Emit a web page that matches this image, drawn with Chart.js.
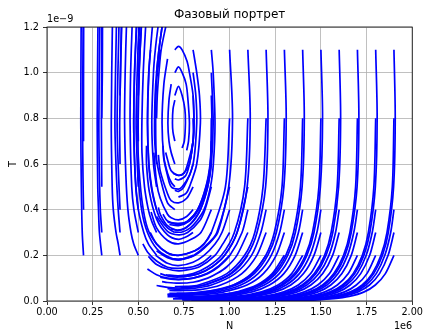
<!DOCTYPE html>
<html>
<head>
<meta charset="utf-8">
<script src="https://cdn.jsdelivr.net/npm/chart.js@4.4.1/dist/chart.umd.min.js"></script>
<style>
  html, body { margin: 0; padding: 0; background: #fff; }
  #wrap { width: 425px; height: 332px; }
</style>
</head>
<body>
<div id="wrap"><canvas id="phase" width="425" height="332"></canvas></div>
<script>
// N in units of 1e6, T in units of 1e-9
const nTicks = [0, 0.25, 0.5, 0.75, 1.0, 1.25, 1.5, 1.75, 2.0];
const tTicks = [0, 0.2, 0.4, 0.6, 0.8, 1.0, 1.2];

// trajectories grouped by starting column N0; each one is a list of [N, T]
const c02 = [
  [[0.2, 0.2], [0.193, 0.3], [0.188, 0.5], [0.185, 0.78], [0.187, 1.2], [0.188, 1.26]],
  [[0.2, 0.4], [0.197, 0.55], [0.195, 0.78], [0.198, 1.2], [0.199, 1.26]],
  [[0.2, 0.7], [0.2, 0.95], [0.201, 1.26]]
];
const c03 = [
  [[0.3, 0.2], [0.287, 0.3], [0.282, 0.4], [0.278, 0.5], [0.275, 0.78], [0.279, 1.2], [0.28, 1.26]],
  [[0.3, 0.3], [0.292, 0.4], [0.287, 0.55], [0.284, 0.78], [0.289, 1.2], [0.29, 1.26]],
  [[0.3, 0.5], [0.298, 0.78], [0.3, 1.2], [0.301, 1.26]],
  [[0.3, 0.8], [0.303, 1.0], [0.304, 1.26]]
];
const c04 = [
  [[0.4, 0.2], [0.39, 0.25], [0.378, 0.3], [0.363, 0.4], [0.357, 0.5], [0.352, 0.78], [0.358, 1.2], [0.36, 1.26]],
  [[0.4, 0.3], [0.39, 0.4], [0.38, 0.55], [0.372, 0.78], [0.38, 1.2], [0.382, 1.26]],
  [[0.4, 0.4], [0.392, 0.55], [0.384, 0.78], [0.394, 1.2], [0.396, 1.26]],
  [[0.4, 0.6], [0.398, 0.78], [0.407, 1.2], [0.409, 1.26]],
  [[0.4, 0.9], [0.404, 1.05], [0.409, 1.2], [0.411, 1.26]]
];
const c05 = [
  [[0.5, 0.2], [0.475, 0.25], [0.46, 0.3], [0.443, 0.4], [0.432, 0.55], [0.425, 0.78], [0.428, 1.0], [0.435, 1.2], [0.438, 1.26]],
  [[0.5, 0.3], [0.476, 0.4], [0.464, 0.5], [0.455, 0.78], [0.458, 1.0], [0.466, 1.2], [0.469, 1.26]],
  [[0.5, 0.4], [0.486, 0.5], [0.478, 0.65], [0.475, 0.78], [0.479, 1.0], [0.49, 1.2], [0.492, 1.26]],
  [[0.5, 0.5], [0.492, 0.65], [0.488, 0.78], [0.494, 1.0], [0.503, 1.2], [0.506, 1.26]],
  [[0.5, 0.7], [0.499, 0.78], [0.505, 1.0], [0.51, 1.1], [0.517, 1.2], [0.52, 1.26]],
  [[0.5, 0.9], [0.504, 1.0], [0.516, 1.2], [0.519, 1.26]],
  [[0.5, 1.1], [0.507, 1.2], [0.51, 1.26]]
];
const c06 = [
  [[0.6, 0.2], [0.555, 0.25], [0.53, 0.3], [0.5, 0.4], [0.487, 0.5], [0.478, 0.65], [0.475, 0.8], [0.48, 1.0], [0.49, 1.2], [0.495, 1.26]],
  [[0.6, 0.3], [0.573, 0.35], [0.555, 0.4], [0.534, 0.5], [0.52, 0.65], [0.52, 0.8], [0.527, 1.0], [0.54, 1.2], [0.545, 1.26]],
  [[0.6, 0.4], [0.585, 0.45], [0.573, 0.5], [0.558, 0.6], [0.551, 0.78], [0.558, 1.0], [0.577, 1.2], [0.585, 1.26]],
  [[0.6, 0.5], [0.583, 0.6], [0.574, 0.78], [0.583, 1.0], [0.593, 1.1], [0.608, 1.2], [0.62, 1.26]],
  [[0.6, 0.6], [0.59, 0.7], [0.589, 0.8], [0.592, 0.9], [0.6, 1.0], [0.613, 1.1], [0.63, 1.2], [0.643, 1.26]],
  [[0.6, 0.8], [0.604, 0.9], [0.613, 1.0], [0.625, 1.1], [0.65, 1.2], [0.667, 1.26]],
  [[0.6, 1.0], [0.613, 1.1], [0.63, 1.2], [0.643, 1.26]]
];
const c07 = [
  [[0.7, 0.2], [0.66, 0.21], [0.6, 0.25], [0.55, 0.32], [0.52, 0.44], [0.5, 0.63], [0.498, 0.78], [0.502, 1.0], [0.508, 1.15]],
  [[0.7, 0.3], [0.66, 0.32], [0.62, 0.36], [0.6, 0.4], [0.58, 0.46], [0.56, 0.57], [0.55, 0.78], [0.557, 1.0], [0.567, 1.1]],
  [[0.7, 0.4], [0.66, 0.43], [0.62, 0.54], [0.6, 0.62], [0.595, 0.78], [0.6, 0.96], [0.62, 1.1]],
  [[0.7, 0.5], [0.68, 0.52], [0.66, 0.56], [0.64, 0.63], [0.63, 0.78], [0.64, 0.95], [0.66, 1.06]],
  [[0.7, 0.6], [0.68, 0.65], [0.668, 0.7], [0.662, 0.78], [0.668, 0.88], [0.68, 0.95]],
  [[0.7, 0.7], [0.69, 0.74], [0.687, 0.78], [0.69, 0.84], [0.7, 0.88]],
  [[0.7, 0.9], [0.72, 0.94], [0.74, 0.9], [0.755, 0.84], [0.758, 0.78], [0.752, 0.7], [0.74, 0.67]],
  [[0.7, 1.0], [0.72, 1.025], [0.74, 1.0], [0.762, 0.95], [0.772, 0.88], [0.78, 0.78], [0.775, 0.7], [0.765, 0.66]],
  [[0.7, 1.1], [0.72, 1.115], [0.74, 1.1], [0.767, 1.05], [0.78, 1.0], [0.8, 0.9], [0.805, 0.78], [0.8, 0.7], [0.785, 0.62]]
];
const c08 = [
  [[0.8, 1.1], [0.82, 1.0], [0.835, 0.9], [0.84, 0.78], [0.82, 0.6], [0.78, 0.5], [0.76, 0.47], [0.72, 0.455]],
  [[0.8, 1.0], [0.815, 0.9], [0.82, 0.78], [0.8, 0.6], [0.75, 0.5], [0.72, 0.48], [0.7, 0.485]],
  [[0.8, 0.9], [0.805, 0.78], [0.8, 0.7], [0.78, 0.6], [0.76, 0.55], [0.72, 0.53], [0.7, 0.535]],
  [[0.8, 0.8], [0.8, 0.7], [0.77, 0.6], [0.75, 0.56], [0.72, 0.55], [0.69, 0.56]],
  [[0.8, 0.7], [0.78, 0.6], [0.75, 0.56], [0.72, 0.55], [0.68, 0.57], [0.66, 0.62], [0.65, 0.65]],
  [[0.8, 0.6], [0.78, 0.55], [0.74, 0.5], [0.72, 0.49], [0.68, 0.5], [0.66, 0.55], [0.64, 0.62], [0.635, 0.68]],
  [[0.8, 0.5], [0.765, 0.45], [0.72, 0.43], [0.68, 0.44], [0.66, 0.47], [0.62, 0.57], [0.61, 0.64]],
  [[0.8, 0.4], [0.765, 0.37], [0.72, 0.355], [0.68, 0.365], [0.66, 0.38], [0.62, 0.45], [0.6, 0.52], [0.585, 0.65]],
  [[0.8, 0.3], [0.76, 0.28], [0.72, 0.27], [0.66, 0.29], [0.6, 0.36], [0.56, 0.48], [0.545, 0.6], [0.545, 0.68]],
  [[0.8, 0.2], [0.765, 0.19], [0.72, 0.18], [0.66, 0.195], [0.6, 0.23], [0.55, 0.3], [0.52, 0.39], [0.5, 0.53], [0.497, 0.6]]
];
const c09 = [
  [[0.9, 1.1], [0.91, 1.0], [0.92, 0.78], [0.911, 0.6], [0.895, 0.5], [0.86, 0.4], [0.82, 0.35], [0.785, 0.32], [0.74, 0.302], [0.7, 0.302]],
  [[0.9, 1.0], [0.91, 0.78], [0.9, 0.6], [0.88, 0.5], [0.84, 0.4], [0.8, 0.35], [0.76, 0.32], [0.72, 0.31], [0.68, 0.315]],
  [[0.9, 0.9], [0.903, 0.78], [0.895, 0.6], [0.875, 0.5], [0.83, 0.4], [0.78, 0.35], [0.72, 0.33], [0.67, 0.335]],
  [[0.9, 0.8], [0.895, 0.6], [0.872, 0.5], [0.825, 0.4], [0.77, 0.35], [0.72, 0.34], [0.66, 0.345]],
  [[0.9, 0.7], [0.893, 0.6], [0.87, 0.5], [0.825, 0.4], [0.77, 0.35], [0.72, 0.335], [0.66, 0.35], [0.635, 0.38]],
  [[0.9, 0.6], [0.88, 0.5], [0.84, 0.4], [0.79, 0.34], [0.72, 0.31], [0.66, 0.33], [0.62, 0.38], [0.61, 0.41]],
  [[0.9, 0.5], [0.865, 0.4], [0.835, 0.35], [0.77, 0.3], [0.72, 0.29], [0.66, 0.305], [0.6, 0.37]],
  [[0.9, 0.4], [0.843, 0.3], [0.79, 0.27], [0.72, 0.25], [0.66, 0.265], [0.6, 0.32], [0.57, 0.39]],
  [[0.9, 0.3], [0.86, 0.25], [0.81, 0.22], [0.72, 0.2], [0.66, 0.21], [0.6, 0.25], [0.565, 0.3]],
  [[0.9, 0.2], [0.855, 0.17], [0.8, 0.15], [0.72, 0.143], [0.66, 0.148], [0.6, 0.175], [0.55, 0.215], [0.525, 0.25]]
];
const c10 = [
  [[1.0, 1.1], [1.016, 0.8], [0.995, 0.5], [0.93, 0.3], [0.88, 0.25], [0.805, 0.2], [0.76, 0.187], [0.72, 0.183], [0.69, 0.185]],
  [[1.0, 0.8], [0.977, 0.5], [0.9, 0.3], [0.86, 0.25], [0.81, 0.22], [0.72, 0.2], [0.67, 0.205]],
  [[1.0, 0.5], [0.935, 0.3], [0.885, 0.25], [0.81, 0.2], [0.72, 0.18], [0.66, 0.19], [0.6, 0.22]],
  [[1.0, 0.4], [0.958, 0.3], [0.92, 0.25], [0.86, 0.2], [0.8, 0.17], [0.72, 0.155], [0.66, 0.165], [0.595, 0.2]],
  [[1.0, 0.3], [0.963, 0.25], [0.92, 0.2], [0.835, 0.15], [0.76, 0.135], [0.72, 0.132], [0.66, 0.14], [0.6, 0.16], [0.555, 0.195]],
  [[1.0, 0.2], [0.935, 0.15], [0.875, 0.12], [0.8, 0.1], [0.72, 0.095], [0.66, 0.1], [0.6, 0.115], [0.55, 0.14]]
];
const c11 = [
  [[1.1, 1.1], [1.113, 0.8], [1.096, 0.5], [1.041, 0.3], [0.973, 0.2], [0.905, 0.15], [0.83, 0.12], [0.76, 0.108], [0.71, 0.106]],
  [[1.1, 0.8], [1.082, 0.5], [1.026, 0.3], [0.956, 0.2], [0.88, 0.15], [0.8, 0.12], [0.72, 0.11], [0.65, 0.115]],
  [[1.1, 0.5], [1.041, 0.3], [0.973, 0.2], [0.905, 0.15], [0.83, 0.12], [0.72, 0.105], [0.66, 0.11], [0.62, 0.12]],
  [[1.1, 0.4], [1.068, 0.3], [1.002, 0.2], [0.94, 0.15], [0.88, 0.12], [0.8, 0.1], [0.72, 0.094], [0.66, 0.098], [0.62, 0.104]],
  [[1.1, 0.3], [1.04, 0.2], [0.985, 0.15], [0.93, 0.12], [0.88, 0.1], [0.8, 0.082], [0.72, 0.078], [0.66, 0.081], [0.63, 0.085]],
  [[1.1, 0.2], [1.053, 0.15], [1.01, 0.12], [0.965, 0.1], [0.9, 0.08], [0.865, 0.07], [0.78, 0.06], [0.72, 0.057], [0.66, 0.06], [0.6, 0.068]]
];
const c12 = [
  [[1.2, 1.1], [1.21, 0.8], [1.197, 0.5], [1.15, 0.3], [1.096, 0.2], [1.004, 0.12], [0.86, 0.07], [0.78, 0.061], [0.735, 0.059]],
  [[1.2, 0.8], [1.183, 0.5], [1.138, 0.3], [1.082, 0.2], [0.985, 0.12], [0.83, 0.07], [0.76, 0.064], [0.7, 0.063]],
  [[1.2, 0.4], [1.171, 0.3], [1.12, 0.2], [1.03, 0.12], [0.9, 0.07], [0.8, 0.055], [0.72, 0.052], [0.66, 0.054]],
  [[1.2, 0.3], [1.149, 0.2], [1.067, 0.12], [0.951, 0.07], [0.84, 0.05], [0.76, 0.046], [0.67, 0.046]],
  [[1.2, 0.2], [1.125, 0.12], [1.022, 0.07], [0.94, 0.05], [0.85, 0.04], [0.76, 0.034], [0.67, 0.034]]
];
const c13 = [
  [[1.3, 1.1], [1.31, 0.8], [1.297, 0.5], [1.256, 0.3], [1.209, 0.2], [1.135, 0.12], [1.035, 0.07], [0.895, 0.04], [0.8, 0.033], [0.74, 0.031]],
  [[1.3, 0.8], [1.287, 0.5], [1.245, 0.3], [1.198, 0.2], [1.12, 0.12], [1.02, 0.07], [0.868, 0.04], [0.78, 0.034], [0.71, 0.033]],
  [[1.3, 0.4], [1.274, 0.3], [1.228, 0.2], [1.156, 0.12], [1.061, 0.07], [0.93, 0.04], [0.8, 0.03], [0.72, 0.028], [0.66, 0.03]],
  [[1.3, 0.3], [1.255, 0.2], [1.185, 0.12], [1.095, 0.07], [0.97, 0.04], [0.885, 0.03], [0.76, 0.025], [0.66, 0.026]],
  [[1.3, 0.2], [1.233, 0.12], [1.149, 0.07], [1.04, 0.04], [0.97, 0.03], [0.84, 0.02], [0.72, 0.018], [0.66, 0.019]]
];
const c14 = [
  [[1.4, 1.1], [1.409, 0.8], [1.397, 0.5], [1.36, 0.3], [1.318, 0.2], [1.253, 0.12], [1.17, 0.07], [1.067, 0.04], [0.89, 0.02], [0.77, 0.016]],
  [[1.4, 0.8], [1.388, 0.5], [1.35, 0.3], [1.308, 0.2], [1.242, 0.12], [1.159, 0.07], [1.053, 0.04], [0.865, 0.02], [0.75, 0.017]],
  [[1.4, 0.4], [1.377, 0.3], [1.335, 0.2], [1.272, 0.12], [1.19, 0.07], [1.09, 0.04], [0.925, 0.02], [0.72, 0.014]],
  [[1.4, 0.3], [1.359, 0.2], [1.297, 0.12], [1.218, 0.07], [1.123, 0.04], [0.97, 0.02], [0.7, 0.012]],
  [[1.4, 0.2], [1.34, 0.12], [1.265, 0.07], [1.175, 0.04], [1.04, 0.02], [0.84, 0.01], [0.69, 0.009]]
];
const c15 = [
  [[1.5, 1.1], [1.509, 0.8], [1.497, 0.5], [1.462, 0.3], [1.423, 0.2], [1.364, 0.12], [1.292, 0.07], [1.205, 0.04], [1.08, 0.02], [0.9, 0.01], [0.81, 0.008]],
  [[1.5, 0.8], [1.489, 0.5], [1.454, 0.3], [1.415, 0.2], [1.355, 0.12], [1.281, 0.07], [1.193, 0.04], [1.064, 0.02], [0.879, 0.01], [0.79, 0.009]],
  [[1.5, 0.4], [1.478, 0.3], [1.44, 0.2], [1.382, 0.12], [1.31, 0.07], [1.225, 0.04], [1.1, 0.02], [0.94, 0.01], [0.76, 0.007]],
  [[1.5, 0.3], [1.462, 0.2], [1.405, 0.12], [1.335, 0.07], [1.25, 0.04], [1.13, 0.02], [0.98, 0.01], [0.75, 0.006]],
  [[1.5, 0.2], [1.444, 0.12], [1.376, 0.07], [1.297, 0.04], [1.185, 0.02], [1.05, 0.01], [0.74, 0.005]]
];
const c16 = [
  [[1.6, 1.1], [1.608, 0.8], [1.597, 0.5], [1.565, 0.3], [1.528, 0.2], [1.473, 0.12], [1.407, 0.07], [1.329, 0.04], [1.222, 0.02], [1.095, 0.01], [0.93, 0.005], [0.85, 0.004]],
  [[1.6, 0.8], [1.589, 0.5], [1.556, 0.3], [1.52, 0.2], [1.464, 0.12], [1.397, 0.07], [1.32, 0.04], [1.21, 0.02], [1.08, 0.01], [0.91, 0.005], [0.83, 0.004]],
  [[1.6, 0.4], [1.58, 0.3], [1.544, 0.2], [1.489, 0.12], [1.423, 0.07], [1.347, 0.04], [1.241, 0.02], [1.118, 0.01], [0.96, 0.005], [0.81, 0.003]],
  [[1.6, 0.3], [1.564, 0.2], [1.51, 0.12], [1.445, 0.07], [1.37, 0.04], [1.267, 0.02], [1.149, 0.01], [1.0, 0.005], [0.8, 0.003]],
  [[1.6, 0.2], [1.547, 0.12], [1.483, 0.07], [1.41, 0.04], [1.31, 0.02], [1.199, 0.01], [1.065, 0.005], [0.79, 0.002]]
];
const c17 = [
  [[1.7, 1.1], [1.708, 0.8], [1.698, 0.5], [1.666, 0.3], [1.632, 0.2], [1.58, 0.12], [1.518, 0.07], [1.446, 0.04], [1.35, 0.02], [1.243, 0.01], [1.118, 0.005], [0.888, 0.002]],
  [[1.7, 0.8], [1.69, 0.5], [1.659, 0.3], [1.624, 0.2], [1.571, 0.12], [1.509, 0.07], [1.437, 0.04], [1.34, 0.02], [1.232, 0.01], [1.105, 0.005], [0.87, 0.002]],
  [[1.7, 0.4], [1.68, 0.3], [1.646, 0.2], [1.594, 0.12], [1.533, 0.07], [1.462, 0.04], [1.367, 0.02], [1.261, 0.01], [1.14, 0.005], [0.85, 0.002]],
  [[1.7, 0.3], [1.666, 0.2], [1.615, 0.12], [1.554, 0.07], [1.484, 0.04], [1.39, 0.02], [1.287, 0.01], [1.17, 0.005], [0.84, 0.001]],
  [[1.7, 0.2], [1.65, 0.12], [1.59, 0.07], [1.522, 0.04], [1.43, 0.02], [1.33, 0.01], [1.22, 0.005], [0.83, 0.001]]
];
const c18 = [
  [[1.8, 1.1], [1.808, 0.8], [1.798, 0.5], [1.768, 0.3], [1.735, 0.2], [1.685, 0.12], [1.626, 0.07], [1.559, 0.04], [1.47, 0.02], [1.373, 0.01], [1.267, 0.005], [1.104, 0.002], [0.94, 0.001]],
  [[1.8, 0.8], [1.79, 0.5], [1.76, 0.3], [1.727, 0.2], [1.677, 0.12], [1.618, 0.07], [1.551, 0.04], [1.461, 0.02], [1.364, 0.01], [1.257, 0.005], [1.095, 0.002], [0.92, 0.001]],
  [[1.8, 0.4], [1.781, 0.3], [1.748, 0.2], [1.699, 0.12], [1.64, 0.07], [1.574, 0.04], [1.486, 0.02], [1.39, 0.01], [1.285, 0.005], [1.126, 0.002], [0.9, 0.001]],
  [[1.8, 0.3], [1.767, 0.2], [1.718, 0.12], [1.66, 0.07], [1.595, 0.04], [1.507, 0.02], [1.413, 0.01], [1.31, 0.005], [1.157, 0.002], [0.89, 0.001]],
  [[1.8, 0.2], [1.752, 0.12], [1.694, 0.07], [1.63, 0.04], [1.544, 0.02], [1.452, 0.01], [1.353, 0.005], [1.207, 0.002], [0.88, 0.001]]
];
const c19 = [
  [[1.9, 1.1], [1.907, 0.8], [1.898, 0.5], [1.869, 0.3], [1.837, 0.2], [1.789, 0.12], [1.733, 0.07], [1.67, 0.04], [1.586, 0.02], [1.496, 0.01], [1.4, 0.005], [1.26, 0.002], [1.17, 0.001], [0.99, 0.0005]],
  [[1.9, 0.8], [1.891, 0.5], [1.862, 0.3], [1.829, 0.2], [1.781, 0.12], [1.726, 0.07], [1.662, 0.04], [1.578, 0.02], [1.488, 0.01], [1.39, 0.005], [1.25, 0.002], [0.97, 0.0005]],
  [[1.9, 0.4], [1.882, 0.3], [1.85, 0.2], [1.803, 0.12], [1.747, 0.07], [1.684, 0.04], [1.6, 0.02], [1.51, 0.01], [1.416, 0.005], [1.28, 0.002], [0.95, 0.0005]],
  [[1.9, 0.3], [1.868, 0.2], [1.821, 0.12], [1.766, 0.07], [1.703, 0.04], [1.62, 0.02], [1.532, 0.01], [1.438, 0.005], [1.3, 0.002], [0.94, 0.0005]],
  [[1.9, 0.2], [1.853, 0.12], [1.798, 0.07], [1.737, 0.04], [1.655, 0.02], [1.57, 0.01], [1.477, 0.005], [1.345, 0.002], [0.93, 0.0005]]
];

const allTracks = [].concat(c02, c03, c04, c05, c06, c07, c08, c09, c10,
  c11, c12, c13, c14, c15, c16, c17, c18, c19);

const FONT = 'DejaVu Sans';

// title, axis labels, offset texts and the full black frame (matplotlib look)
const decor = {
  id: 'decor',
  afterDatasetsDraw(chart) {
    const ctx = chart.ctx;
    const a = chart.chartArea;
    ctx.save();
    ctx.strokeStyle = '#000';
    ctx.lineWidth = 0.8;
    ctx.strokeRect(a.left, a.top, a.right - a.left, a.bottom - a.top);

    ctx.fillStyle = '#000';
    const cx = (a.left + a.right) / 2;
    ctx.textAlign = 'center';
    ctx.textBaseline = 'middle';
    ctx.font = '12px "' + FONT + '"';
    ctx.fillText('Фазовый портрет', cx, 15);

    ctx.font = '9.7px "' + FONT + '"';
    ctx.fillText('N', cx, 326);
    ctx.textAlign = 'right';
    ctx.fillText('1e6', a.right, 326);
    ctx.textAlign = 'left';
    ctx.fillText('1e\u22129', a.left, 19);

    ctx.translate(13, (a.top + a.bottom) / 2);
    ctx.rotate(-Math.PI / 2);
    ctx.textAlign = 'center';
    ctx.fillText('T', 0, 0);
    ctx.restore();
  }
};

new Chart(document.getElementById('phase'), {
  type: 'scatter',
  data: {
    datasets: allTracks.map(track => ({
      data: track.map(p => ({ x: p[0], y: p[1] })),
      showLine: true,
      borderColor: '#0000ff',
      borderWidth: 1.7,
      pointRadius: 0,
      tension: 0.3,
      fill: false,
      clip: 0
    }))
  },
  options: {
    responsive: false,
    animation: false,
    events: [],
    layout: { padding: { left: 0, right: 10, top: 27, bottom: 0 } },
    plugins: {
      legend: { display: false },
      tooltip: { enabled: false },
      title: { display: false }
    },
    scales: {
      x: {
        type: 'linear',
        min: 0,
        max: 2,
        afterFit: s => { s.height = 31; },
        afterBuildTicks: s => { s.ticks = nTicks.map(v => ({ value: v })); },
        border: { display: false },
        grid: { color: '#b0b0b0', lineWidth: 0.8, tickColor: '#000', tickLength: 4, tickWidth: 0.8 },
        ticks: {
          color: '#000',
          padding: 2,
          maxRotation: 0,
          autoSkip: false,
          font: { family: FONT, size: 9.7 },
          callback: v => v.toFixed(2)
        }
      },
      y: {
        type: 'linear',
        min: 0,
        max: 1.2,
        afterFit: s => { s.width = 47; },
        afterBuildTicks: s => { s.ticks = tTicks.map(v => ({ value: v })); },
        border: { display: false },
        grid: { color: '#b0b0b0', lineWidth: 0.8, tickColor: '#000', tickLength: 4, tickWidth: 0.8 },
        ticks: {
          color: '#000',
          padding: 4,
          autoSkip: false,
          font: { family: FONT, size: 9.7 },
          callback: v => v.toFixed(1)
        }
      }
    }
  },
  plugins: [decor]
});
</script>
</body>
</html>
